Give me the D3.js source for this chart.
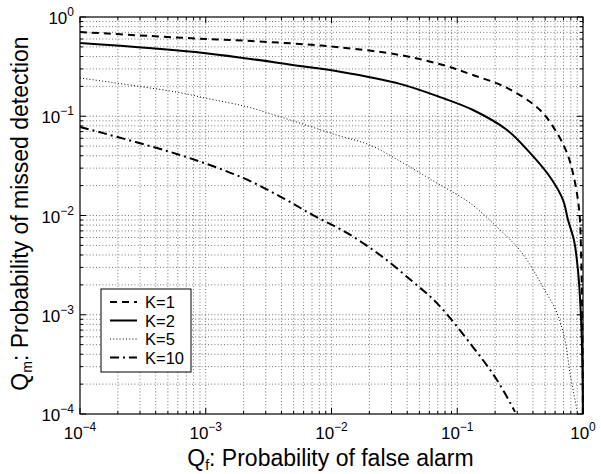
<!DOCTYPE html>
<html>
<head>
<meta charset="utf-8">
<script src="https://cdn.jsdelivr.net/npm/d3@7"></script>
<style>
  body { margin: 0; background: #fff; }
  text { font-family: "Liberation Sans", Arial, Helvetica, sans-serif; fill: #000; }
</style>
</head>
<body>
<div id="chart"></div>
<script>
// Data: Qf (false alarm) vs Qm (missed detection)
const qfK1 = [1e-4, 3.6e-4, 1e-3, 1.56e-3, 5.6e-3, 0.0117, 0.035, 0.0771, 0.1334, 0.249, 0.455, 0.621, 0.746, 0.832, 0.912, 0.946, 0.964, 0.982, 0.993, 0.998];
const qmK1 = [0.706, 0.644, 0.600, 0.587, 0.535, 0.495, 0.414, 0.328, 0.260, 0.193, 0.1156, 0.0678, 0.0427, 0.0268, 0.0143, 0.0090, 0.00449, 0.00141, 3.5e-4, 1e-4];

const qfK2 = [1e-4, 1e-3, 5.6e-3, 0.0117, 0.035, 0.0729, 0.1334, 0.249, 0.379, 0.547, 0.694, 0.760, 0.847, 0.912, 0.964, 0.991, 0.997];
const qmK2 = [0.547, 0.432, 0.321, 0.281, 0.212, 0.156, 0.1156, 0.0727, 0.0427, 0.0244, 0.0143, 0.0090, 0.00566, 0.00282, 9.5e-4, 2.77e-4, 1e-4];

const qfK5 = [1e-4, 6.24e-4, 1e-3, 2.12e-3, 3.89e-3, 0.0110, 0.0202, 0.0371, 0.0690, 0.126, 0.207, 0.299, 0.359, 0.481, 0.621, 0.719, 0.788, 0.896];
const qmK5 = [0.243, 0.1727, 0.152, 0.1248, 0.0989, 0.0647, 0.0513, 0.0338, 0.0212, 0.0134, 0.00766, 0.00482, 0.00356, 0.00190, 0.00104, 5.57e-4, 2.59e-4, 1.1e-4];

const qfK10 = [1e-4, 6.24e-4, 1.98e-3, 4.11e-3, 7.12e-3, 0.01328, 0.0243, 0.0445, 0.0690, 0.1334, 0.207, 0.288];
const qmK10 = [0.078, 0.0407, 0.0239, 0.0150, 0.0101, 0.00667, 0.00400, 0.00214, 0.00131, 4.73e-4, 2.2e-4, 1.05e-4];

const seriesNames = ["K=1", "K=2", "K=5", "K=10"];
const decadeExps = [-4, -3, -2, -1, 0];

// Layout
const width = 601;
const height = 474;
const margin = {top: 17, right: 18, bottom: 60, left: 80};
const innerW = width - margin.left - margin.right;
const innerH = height - margin.top - margin.bottom;

const styles = [
  {width: 2, dash: "7,5"},
  {width: 2, dash: null},
  {width: 1, dash: "1,2.2"},
  {width: 2, dash: "9,4,2,4"}
];

const series = [
  {name: seriesNames[0], qf: qfK1, qm: qmK1},
  {name: seriesNames[1], qf: qfK2, qm: qmK2},
  {name: seriesNames[2], qf: qfK5, qm: qmK5},
  {name: seriesNames[3], qf: qfK10, qm: qmK10}
].map((s, i) => ({...s, style: styles[i], points: s.qf.map((q, j) => [q, s.qm[j]])}));

const x = d3.scaleLog().domain([1e-4, 1]).range([0, innerW]);
const y = d3.scaleLog().domain([1e-4, 1]).range([innerH, 0]);

const svg = d3.select("#chart")
  .append("svg")
  .attr("width", width)
  .attr("height", height);

const g = svg.append("g").attr("transform", `translate(${margin.left},${margin.top})`);

// minor + major tick values
const allTicks = [];
decadeExps.slice(0, -1).forEach(e => {
  for (let m = 1; m <= 9; m++) allTicks.push(m * Math.pow(10, e));
});
allTicks.push(1);
const majorTicks = decadeExps.map(e => Math.pow(10, e));
const isMajor = v => majorTicks.some(t => Math.abs(t - v) / t < 1e-9);

// Grid (dotted, every tick)
const gridVals = allTicks.filter(v => v > 1e-4 && v < 1);
g.append("g")
  .selectAll("line")
  .data(gridVals)
  .join("line")
  .attr("x1", d => x(d)).attr("x2", d => x(d))
  .attr("y1", 0).attr("y2", innerH)
  .attr("stroke", "#555").attr("stroke-width", 0.8)
  .attr("stroke-dasharray", "1,2.2");

g.append("g")
  .selectAll("line")
  .data(gridVals)
  .join("line")
  .attr("y1", d => y(d)).attr("y2", d => y(d))
  .attr("x1", 0).attr("x2", innerW)
  .attr("stroke", "#555").attr("stroke-width", 0.8)
  .attr("stroke-dasharray", "1,2.2");

// Curves
const line = d3.line()
  .x(d => x(d[0]))
  .y(d => y(d[1]))
  .curve(d3.curveCatmullRom.alpha(0.5));

g.append("g")
  .selectAll("path")
  .data(series)
  .join("path")
  .attr("d", d => line(d.points))
  .attr("fill", "none")
  .attr("stroke", "#000")
  .attr("stroke-width", d => d.style.width)
  .attr("stroke-dasharray", d => d.style.dash);

// Inward ticks on all four sides
const tickLen = d => isMajor(d) ? 6 : 3;
const tickG = g.append("g").attr("stroke", "#000").attr("stroke-width", 1);
tickG.selectAll(".tb").data(allTicks).join("line")
  .attr("x1", d => x(d)).attr("x2", d => x(d))
  .attr("y1", innerH).attr("y2", d => innerH - tickLen(d));
tickG.selectAll(".tt").data(allTicks).join("line")
  .attr("x1", d => x(d)).attr("x2", d => x(d))
  .attr("y1", 0).attr("y2", d => tickLen(d));
tickG.selectAll(".tl").data(allTicks).join("line")
  .attr("y1", d => y(d)).attr("y2", d => y(d))
  .attr("x1", 0).attr("x2", d => tickLen(d));
tickG.selectAll(".tr").data(allTicks).join("line")
  .attr("y1", d => y(d)).attr("y2", d => y(d))
  .attr("x1", innerW).attr("x2", d => innerW - tickLen(d));

// Frame
g.append("rect")
  .attr("width", innerW).attr("height", innerH)
  .attr("fill", "none").attr("stroke", "#000").attr("stroke-width", 1.2);

// Tick labels as 10^e
function powerLabel(sel, e) {
  sel.append("tspan").text("10");
  sel.append("tspan").attr("dy", -8).attr("font-size", "12px").text(e === 0 ? "0" : "\u2212" + Math.abs(e));
}

decadeExps.forEach(e => {
  const t = g.append("text")
    .attr("x", x(Math.pow(10, e)))
    .attr("y", innerH + 25)
    .attr("text-anchor", "middle")
    .attr("font-size", "17px");
  powerLabel(t, e);

  const t2 = g.append("text")
    .attr("x", -6)
    .attr("y", y(Math.pow(10, e)) + 7)
    .attr("text-anchor", "end")
    .attr("font-size", "17px");
  powerLabel(t2, e);
});

// Axis titles
const xt = svg.append("text")
  .attr("x", margin.left + innerW / 2 - 1)
  .attr("y", 466)
  .attr("text-anchor", "middle")
  .attr("font-size", "23px");
xt.append("tspan").text("Q");
xt.append("tspan").attr("dy", 4).attr("font-size", "14px").text("f");
xt.append("tspan").attr("dy", -4).text(": Probability of false alarm");

const yt = svg.append("text")
  .attr("transform", `translate(28,${margin.top + innerH / 2 - 2}) rotate(-90)`)
  .attr("text-anchor", "middle")
  .attr("font-size", "23px");
yt.append("tspan").text("Q");
yt.append("tspan").attr("dy", 4).attr("font-size", "14px").text("m");
yt.append("tspan").attr("dy", -4).text(": Probability of missed detection");

// Legend
const legend = g.append("g").attr("transform", "translate(21,272)");
legend.append("rect")
  .attr("width", 90).attr("height", 83)
  .attr("fill", "#fff").attr("stroke", "#000").attr("stroke-width", 1);
const rows = legend.selectAll(".row").data(series).join("g")
  .attr("transform", (d, i) => `translate(0,${13 + i * 18.5})`);
rows.append("line")
  .attr("x1", 9).attr("x2", 36)
  .attr("stroke", "#000")
  .attr("stroke-width", d => d.style.width)
  .attr("stroke-dasharray", d => d.style.dash);
rows.append("text")
  .attr("x", 44).attr("y", 6)
  .attr("font-size", "16.5px")
  .text(d => d.name);
</script>
</body>
</html>
